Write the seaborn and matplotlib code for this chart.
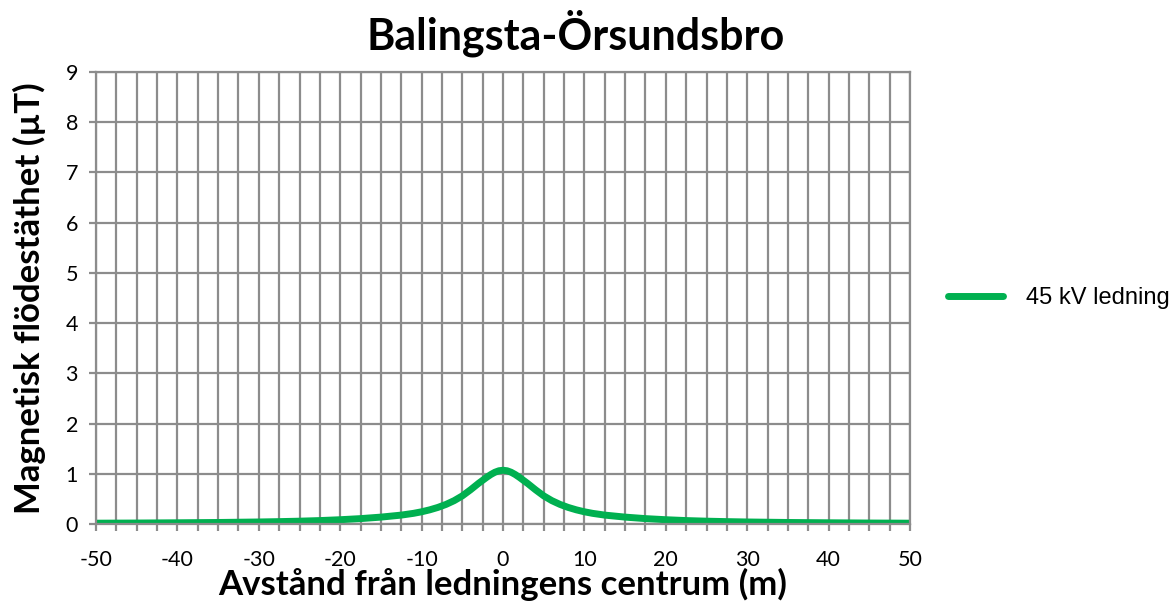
import pandas as pd
import seaborn as sns
import matplotlib.pyplot as plt
from matplotlib.ticker import MultipleLocator


sns.set_theme(style="white")
plt.rcParams['font.family'] = ['Lato', 'DejaVu Sans']
plt.rcParams['axes.unicode_minus'] = False
plt.rcParams['text.color'] = 'black'
plt.rcParams['axes.labelcolor'] = 'black'

# distance from line centre (m) and magnetic flux density (uT)
distance = [-50, -45, -40, -35, -30, -27.5, -25, -22.5, -20, -17.5, -15, -12.5,
            -11, -10, -9, -8, -7, -6, -5, -4, -3, -2, -1.5, -1, -0.5, 0,
            0.5, 1, 1.5, 2, 3, 4, 5, 6, 7, 8, 9, 10, 11,
            12.5, 15, 17.5, 20, 22.5, 25, 27.5, 30, 35, 40, 45, 50]
flux = [0.016, 0.019, 0.024, 0.030, 0.040, 0.047, 0.056, 0.068, 0.085, 0.107, 0.137, 0.177,
        0.212, 0.243, 0.282, 0.33, 0.39, 0.465, 0.56, 0.68, 0.81, 0.93, 0.985, 1.03, 1.06, 1.07,
        1.06, 1.03, 0.985, 0.93, 0.81, 0.68, 0.56, 0.465, 0.39, 0.33, 0.282, 0.243, 0.212,
        0.177, 0.137, 0.107, 0.085, 0.068, 0.056, 0.047, 0.040, 0.030, 0.024, 0.019, 0.016]
series_name = "45 kV ledning"

df = pd.DataFrame({"x": distance, "y": flux, "serie": series_name})

fig = plt.figure(figsize=(11.75, 6.05), dpi=100)
ax = fig.add_axes([0.0817, 0.1339, 0.6928, 0.7471])

grid_col = "#8c8c8c"
ax.set_xlim(-50, 50)
ax.set_ylim(0, 9)
ax.xaxis.set_major_locator(MultipleLocator(10))
ax.xaxis.set_minor_locator(MultipleLocator(2.5))
ax.yaxis.set_major_locator(MultipleLocator(1))
ax.grid(True, which="both", axis="x", color=grid_col, lw=1.6)
ax.grid(True, which="major", axis="y", color=grid_col, lw=1.6)
ax.set_axisbelow(True)

sns.lineplot(data=df, x="x", y="y", hue="serie", palette=["#00b050"],
             lw=5, ax=ax, legend=True)

for s in ax.spines.values():
    s.set_color(grid_col)
    s.set_linewidth(1.6)
ax.tick_params(axis="both", which="both", direction="out", color=grid_col,
               length=5, width=1.6, labelsize=15.5, labelcolor="black")
ax.tick_params(axis="x", which="both", bottom=True, pad=14)
ax.tick_params(axis="y", left=True, pad=8)

ax.set_xlabel("Avstånd från ledningens centrum (m)", fontsize=25,
              fontweight="bold")
ax.xaxis.set_label_coords(0.5, -0.098)
ax.set_ylabel("Magnetisk flödestäthet (µT)", fontsize=25,
              fontweight="bold")
ax.yaxis.set_label_coords(-0.062, 0.5)
fig.suptitle("Balingsta-Örsundsbro", fontsize=31, fontweight="bold",
             x=0.49, y=0.985, color="black")

leg = ax.legend(loc="center left", bbox_to_anchor=(1.021, 0.5), frameon=False,
                handlelength=2.3, handletextpad=1.0, labelcolor="black",
                prop={"family": "Liberation Sans", "size": 17})
for h in leg.get_lines():
    h.set_linewidth(5)

fig.savefig("out.png", dpi=100)
